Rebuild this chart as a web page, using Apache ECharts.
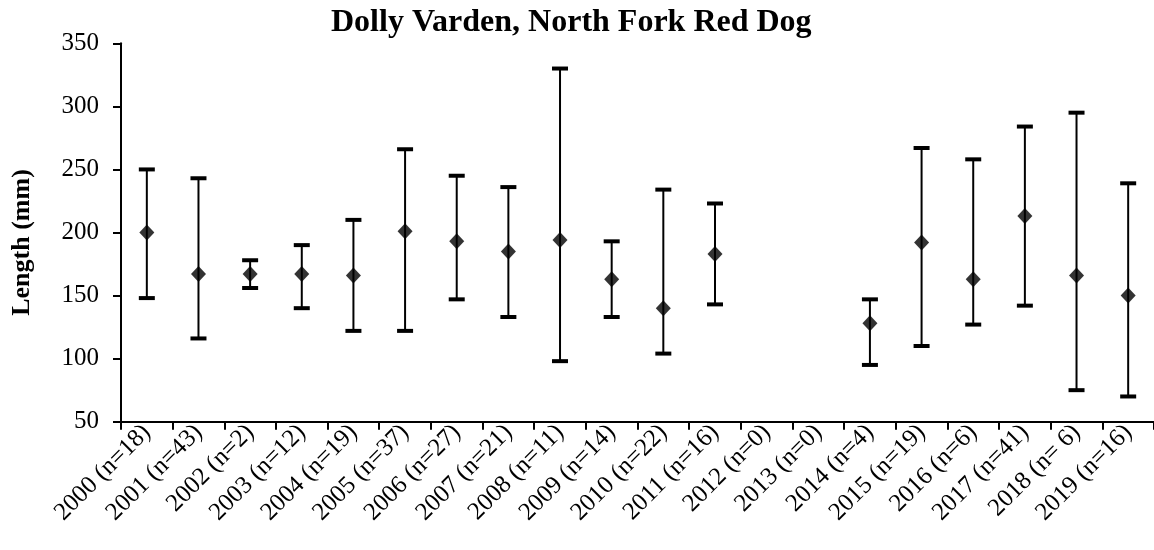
<!DOCTYPE html>
<html>
<head>
<meta charset="utf-8">
<script src="https://cdn.jsdelivr.net/npm/echarts@6/dist/echarts.min.js"></script>
<style>
html,body{margin:0;padding:0;background:#fff;}
#chart{width:1154px;height:550px;}
</style>
</head>
<body>
<div id="chart"></div>
<script>
const categories = ["2000 (n=18)","2001 (n=43)","2002 (n=2)","2003 (n=12)","2004 (n=19)","2005 (n=37)","2006 (n=27)","2007 (n=21)","2008 (n=11)","2009 (n=14)","2010 (n=22)","2011 (n=16)","2012 (n=0)","2013 (n=0)","2014 (n=4)","2015 (n=19)","2016 (n=6)","2017 (n=41)","2018 (n= 6)","2019 (n=16)"];
const meanValues = [200,167,167,167,166,201,193,185,194,163,140,183,null,null,128,192,163,213,166,150];
const minValues  = [148,116,156,140,122,122,147,133,98,133,104,143,null,null,95,110,127,142,75,70];
const maxValues  = [250,243,178,190,210,266,245,236,330,193,234,223,null,null,147,267,258,284,295,239];
const yTicks = {min:50, max:350, interval:50};

const errData = categories.map((c,i)=> [i, minValues[i], maxValues[i]]).filter(d=>d[1]!=null);
const meanData = categories.map((c,i)=> meanValues[i]==null ? null : [i, meanValues[i]]).filter(d=>d);

const chart = echarts.init(document.getElementById('chart'), null, {renderer:'canvas'});
const font = '"Liberation Serif","Times New Roman",serif';
chart.setOption({
  animation:false,
  backgroundColor:'#fff',
  title:{
    text:'Dolly Varden, North Fork Red Dog',
    left:326, top:2,
    textStyle:{fontFamily:font, fontWeight:'bold', fontSize:32, color:'#000'}
  },
  grid:{left:121, top:43.3, width:1042, height:378.4},
  xAxis:{
    type:'category', data:categories,
    axisLine:{lineStyle:{color:'#000', width:2}},
    axisTick:{show:true, length:8, lineStyle:{color:'#000', width:2}},
    axisLabel:{rotate:45, fontFamily:font, fontSize:25, color:'#000', margin:7, interval:0},
    splitLine:{show:false}
  },
  yAxis:{
    type:'value', min:yTicks.min, max:yTicks.max, interval:yTicks.interval,
    name:'Length (mm)', nameLocation:'middle', nameGap:86,
    nameTextStyle:{fontFamily:font, fontWeight:'bold', fontSize:26, color:'#000', padding:[0,20,0,0]},
    axisLine:{show:true, lineStyle:{color:'#000', width:2}},
    axisTick:{show:true, length:8, lineStyle:{color:'#000', width:2}},
    axisLabel:{fontFamily:font, fontSize:25, color:'#000', margin:22},
    splitLine:{show:false}
  },
  series:[
    {
      type:'custom',
      data:errData,
      renderItem:function(params, api){
        const x = api.value(0);
        const lo = api.coord([x, api.value(1)]);
        const hi = api.coord([x, api.value(2)]);
        const hw = 8;
        const st = {stroke:'#000', lineWidth:2};
        const cap = {stroke:'#000', lineWidth:4};
        return {type:'group', children:[
          {type:'line', shape:{x1:lo[0], y1:lo[1], x2:hi[0], y2:hi[1]}, style:st},
          {type:'line', shape:{x1:lo[0]-hw, y1:lo[1], x2:lo[0]+hw, y2:lo[1]}, style:cap},
          {type:'line', shape:{x1:hi[0]-hw, y1:hi[1], x2:hi[0]+hw, y2:hi[1]}, style:cap}
        ]};
      },
      z:2
    },
    {
      type:'scatter',
      data:meanData,
      symbol:'diamond',
      symbolSize:[15,16],
      itemStyle:{color:'#000'},
      z:3
    }
  ]
});
</script>
</body>
</html>
